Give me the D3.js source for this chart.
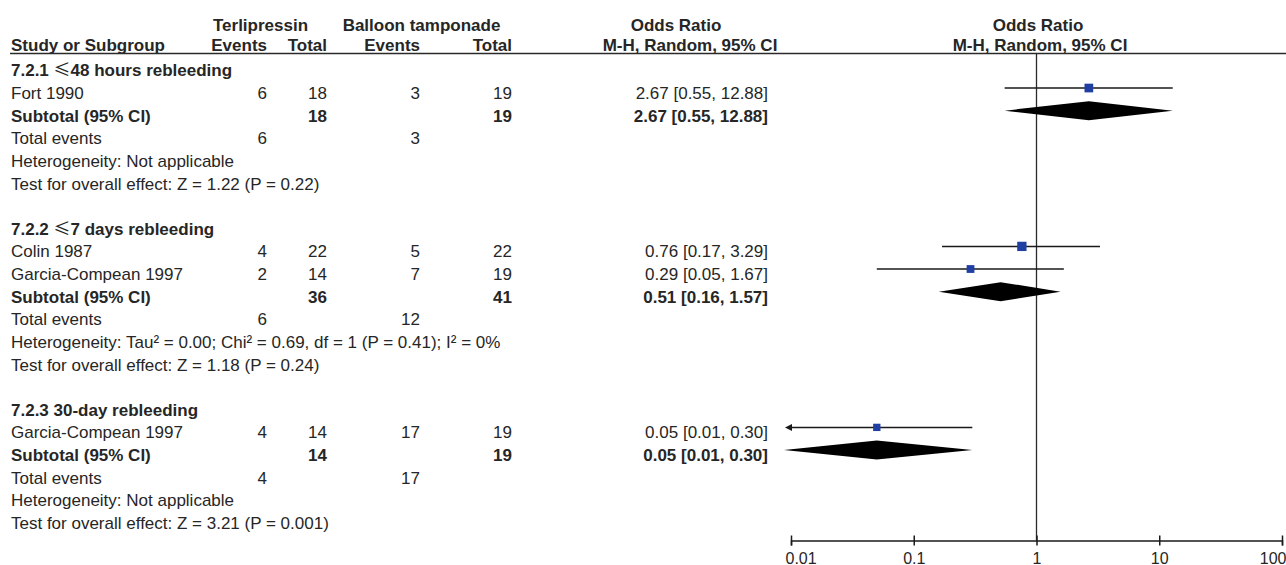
<!DOCTYPE html>
<head>
  <meta charset="utf-8">
  <script src="https://d3js.org/d3.v7.min.js"></script>
  <style>
    body { margin:0; background:#ffffff; }
    text { font-family: "Liberation Sans", Arial, sans-serif; font-size: 17px; fill: #262626; }
    .b { font-weight: bold; }
  </style>
</head>

<body>
  <script>
    // subgroups
    var groupTitles = ["7.2.1 \u226448 hours rebleeding", "7.2.2 \u22647 days rebleeding", "7.2.3 30-day rebleeding"];
    var subTotal1 = [18, 36, 14];
    var subTotal2 = [19, 41, 19];
    var subOR = [2.67, 0.51, 0.05];
    var subLow = [0.55, 0.16, 0.01];
    var subHigh = [12.88, 1.57, 0.30];
    var totalEvents1 = [6, 6, 4];
    var totalEvents2 = [3, 12, 17];
    var heterogeneity = [
      "Heterogeneity: Not applicable",
      "Heterogeneity: Tau\u00b2 = 0.00; Chi\u00b2 = 0.69, df = 1 (P = 0.41); I\u00b2 = 0%",
      "Heterogeneity: Not applicable"
    ];
    var overallTest = [
      "Test for overall effect: Z = 1.22 (P = 0.22)",
      "Test for overall effect: Z = 1.18 (P = 0.24)",
      "Test for overall effect: Z = 3.21 (P = 0.001)"
    ];

    // studies
    var studyNames = ["Fort 1990", "Colin 1987", "Garcia-Compean 1997", "Garcia-Compean 1997"];
    var studyGroup = [0, 1, 1, 2];
    var terliEvents = [6, 4, 2, 4];
    var terliTotal = [18, 22, 14, 14];
    var balloonEvents = [3, 5, 7, 17];
    var balloonTotal = [19, 22, 19, 19];
    var studyOR = [2.67, 0.76, 0.29, 0.05];
    var studyLow = [0.55, 0.17, 0.05, 0.01];
    var studyHigh = [12.88, 3.29, 1.67, 0.30];
    var studyWeight = [1.55, 1.77, 1.24, 1.10];

    var axisTicks = [0.01, 0.1, 1, 10, 100];

    var width = 1286, height = 565;
    var svg = d3.select("body").append("svg")
      .attr("width", width)
      .attr("height", height);
    svg.append("rect").attr("width", width).attr("height", height).attr("fill", "#ffffff");

    // columns
    var colName = 11, colE1 = 267, colN1 = 327, colE2 = 420, colN2 = 512, colOR = 768;

    var x = d3.scaleLog().domain([0.01, 100]).range([791, 1282]);
    var rowY = d3.scaleLinear().domain([0, 21]).range([65.4, 540.5]);
    var sq = d3.scaleSqrt().domain([0, d3.max(studyWeight)]).range([0, 9.3]);

    // header
    var head = svg.append("g").attr("class", "b");
    head.append("text").attr("x", 260.5).attr("y", 31).attr("text-anchor", "middle").text("Terlipressin");
    head.append("text").attr("x", 421.5).attr("y", 31).attr("text-anchor", "middle").text("Balloon tamponade");
    head.append("text").attr("x", 676).attr("y", 31).attr("text-anchor", "middle").text("Odds Ratio");
    head.append("text").attr("x", 1038).attr("y", 31).attr("text-anchor", "middle").text("Odds Ratio");
    head.append("text").attr("x", colName).attr("y", 51).text("Study or Subgroup");
    head.append("text").attr("x", colE1).attr("y", 51).attr("text-anchor", "end").text("Events");
    head.append("text").attr("x", colN1).attr("y", 51).attr("text-anchor", "end").text("Total");
    head.append("text").attr("x", colE2).attr("y", 51).attr("text-anchor", "end").text("Events");
    head.append("text").attr("x", colN2).attr("y", 51).attr("text-anchor", "end").text("Total");
    head.append("text").attr("x", 690).attr("y", 51).attr("text-anchor", "middle").text("M-H, Random, 95% CI");
    head.append("text").attr("x", 1040).attr("y", 51).attr("text-anchor", "middle").text("M-H, Random, 95% CI");

    svg.append("line")
      .attr("x1", 10).attr("x2", width)
      .attr("y1", 53.5).attr("y2", 53.5)
      .attr("stroke", "#2a2a2a").attr("stroke-width", 1.5);

    // build rows
    var rows = [];
    var k = 0;
    groupTitles.forEach(function(t, g) {
      rows.push({k: k++, kind: "group", g: g});
      studyGroup.forEach(function(sg, i) {
        if (sg === g) rows.push({k: k++, kind: "study", i: i});
      });
      rows.push({k: k++, kind: "subtotal", g: g});
      rows.push({k: k++, kind: "events", g: g});
      rows.push({k: k++, kind: "het", g: g});
      rows.push({k: k++, kind: "test", g: g});
      k++;
    });

    function addText(g, xx, yy, str, anchor, bold) {
      var t = g.append("text").attr("x", xx).attr("y", yy).text(str);
      if (anchor) t.attr("text-anchor", anchor);
      if (bold) t.attr("class", "b");
      return t;
    }
    function fmt(v) { return v.toFixed(2); }

    var table = svg.append("g");
    rows.forEach(function(r) {
      var yb = rowY(r.k) + 11;
      if (r.kind === "group") {
        var parts = groupTitles[r.g].split("\u2264");
        var t = table.append("text").attr("x", colName).attr("y", yb).attr("class", "b");
        t.append("tspan").text(parts[0]);
        if (parts.length > 1) {
          t.append("tspan").style("font-family", "'Noto Sans CJK SC'").style("font-weight", "normal").text("\u2264");
          t.append("tspan").text(parts[1]);
        }
      } else if (r.kind === "study") {
        var i = r.i;
        addText(table, colName, yb, studyNames[i]);
        addText(table, colE1, yb, terliEvents[i], "end");
        addText(table, colN1, yb, terliTotal[i], "end");
        addText(table, colE2, yb, balloonEvents[i], "end");
        addText(table, colN2, yb, balloonTotal[i], "end");
        addText(table, colOR, yb, fmt(studyOR[i]) + " [" + fmt(studyLow[i]) + ", " + fmt(studyHigh[i]) + "]", "end");
      } else if (r.kind === "subtotal") {
        addText(table, colName, yb, "Subtotal (95% CI)", null, true);
        addText(table, colN1, yb, subTotal1[r.g], "end", true);
        addText(table, colN2, yb, subTotal2[r.g], "end", true);
        addText(table, colOR, yb, fmt(subOR[r.g]) + " [" + fmt(subLow[r.g]) + ", " + fmt(subHigh[r.g]) + "]", "end", true);
      } else if (r.kind === "events") {
        addText(table, colName, yb, "Total events");
        addText(table, colE1, yb, totalEvents1[r.g], "end");
        addText(table, colE2, yb, totalEvents2[r.g], "end");
      } else if (r.kind === "het") {
        addText(table, colName, yb, heterogeneity[r.g]);
      } else if (r.kind === "test") {
        addText(table, colName, yb, overallTest[r.g]);
      }
    });

    // plot
    var plot = svg.append("g");
    var xmin = x.domain()[0], xmax = x.domain()[1];

    plot.append("line")
      .attr("x1", x(1)).attr("x2", x(1))
      .attr("y1", 53.5).attr("y2", rowY(21))
      .attr("stroke", "#2a2a2a").attr("stroke-width", 1.3);

    rows.filter(function(r) { return r.kind === "study"; }).forEach(function(r) {
      var i = r.i, yy = rowY(r.k);
      var lo = Math.max(studyLow[i], xmin), hi = Math.min(studyHigh[i], xmax);
      plot.append("line")
        .attr("x1", x(lo)).attr("x2", x(hi))
        .attr("y1", yy).attr("y2", yy)
        .attr("stroke", "#1a1a1a").attr("stroke-width", 1.5);
      if (studyLow[i] <= xmin) {
        var x0 = x(xmin);
        plot.append("path")
          .attr("d", "M" + (x0 + 1) + "," + (yy - 3.5) + "L" + (x0 - 6) + "," + yy + "L" + (x0 + 1) + "," + (yy + 3.5) + "Z")
          .attr("fill", "#1a1a1a");
      }
      var s = sq(studyWeight[i]);
      plot.append("rect")
        .attr("x", x(studyOR[i]) - s / 2).attr("y", yy - s / 2)
        .attr("width", s).attr("height", s)
        .attr("fill", "#1f3fa3");
    });

    rows.filter(function(r) { return r.kind === "subtotal"; }).forEach(function(r) {
      var g = r.g, yy = rowY(r.k), h = 9.5;
      var lo = x(Math.max(subLow[g], xmin)), hi = x(Math.min(subHigh[g], xmax)), c = x(subOR[g]);
      if (subLow[g] <= xmin) lo -= 7;
      plot.append("path")
        .attr("d", "M" + lo + "," + yy + "L" + c + "," + (yy - h) + "L" + hi + "," + yy + "L" + c + "," + (yy + h) + "Z")
        .attr("fill", "#000000");
    });

    // axis
    var nT = axisTicks.length;
    var axisG = svg.append("g")
      .attr("transform", "translate(0," + rowY(21) + ")")
      .attr("color", "#1a1a1a")
      .call(d3.axisBottom(x).tickValues(axisTicks).tickFormat(function(d) { return d; }).tickSizeOuter(0).tickSize(5));
    axisG.select(".domain").attr("stroke-width", 1.5);
    axisG.selectAll(".tick line").attr("y1", -5).attr("y2", 5).attr("stroke-width", 1.5);
    axisG.selectAll(".tick text")
      .attr("dy", null).attr("y", 23)
      .style("font-size", "16px")
      .attr("x", function(d, i) { return i === 0 ? -6 : (i === nT - 1 ? 4 : 0); })
      .attr("text-anchor", function(d, i) { return i === 0 ? "start" : (i === nT - 1 ? "end" : "middle"); });
  </script>
</body>
